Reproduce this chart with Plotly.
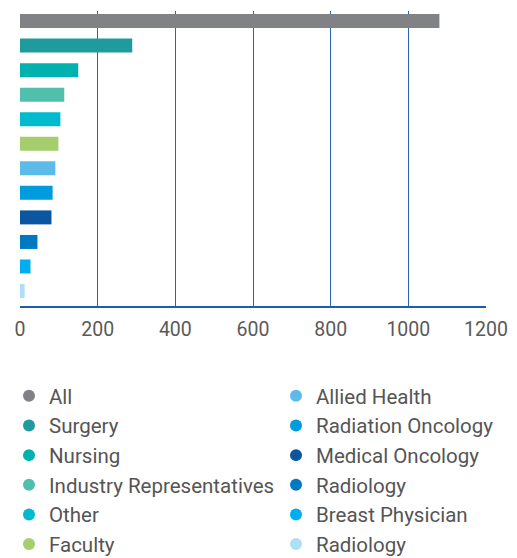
import plotly.graph_objects as go

categories = ["All", "Surgery", "Nursing", "Industry Representatives", "Other", "Faculty",
              "Allied Health", "Radiation Oncology", "Medical Oncology", "Radiology",
              "Breast Physician", "Radiology"]
values = [1080, 289, 150, 114, 104, 99, 91, 84, 81, 45, 27, 12]
colors = ["#808285", "#1f9a9d", "#00b1ae", "#50c0ad", "#00bacd", "#a6ce6e",
          "#5dbbe9", "#009bdd", "#0b56a0", "#0079c1", "#00aeef", "#addff6"]
x_ticks = [0, 200, 400, 600, 800, 1000, 1200]

positions = list(range(len(categories)))
FONT = "Roboto"
TXT = "#555555"

W, H = 517, 558
L, R, T, B = 20, 31, 11, 252
pw, ph = W - L - R, H - T - B


def px_x(p):
    return (p - L) / pw


def px_y(p):
    return (H - B - p) / ph


fig = go.Figure()
fig.add_trace(go.Bar(x=values, y=positions, orientation="h", marker_color=colors,
                     marker_line_width=0, width=0.57, showlegend=False, hoverinfo="x"))

for i, (name, c) in enumerate(zip(categories, colors)):
    fig.add_trace(go.Scatter(x=[0], y=[-5], mode="markers", name=name,
                             marker=dict(symbol="circle", size=12, color=c),
                             hoverinfo="skip",
                             legend="legend" if i < 6 else "legend2"))

legend_common = dict(font=dict(family=FONT, size=20.5, color=TXT), bgcolor="rgba(0,0,0,0)",
                     yanchor="top", xanchor="left",
                     itemclick=False, itemdoubleclick=False)

fig.update_layout(
    width=W, height=H,
    margin=dict(l=L, r=R, t=T, b=B, autoexpand=False),
    paper_bgcolor="white", plot_bgcolor="white",
    barmode="overlay",
    xaxis=dict(type="linear", range=[0, 1200], tickvals=x_ticks,
               ticktext=[str(t) for t in x_ticks], automargin=False,
               showgrid=True, gridcolor="#2a64ac", gridwidth=1, zeroline=False,
               showline=True, linecolor="#1d5ea8", linewidth=1.5, ticks="",
               ticklabelstandoff=5,
               tickfont=dict(family=FONT, size=19.5, color="#5a5a5a"), fixedrange=True),
    yaxis=dict(type="linear", range=[11.61, -0.41], showticklabels=False, showgrid=False,
               zeroline=False, fixedrange=True, automargin=False),
    legend=dict(x=px_x(9), y=px_y(376), **legend_common),
    legend2=dict(x=px_x(276), y=px_y(376), **legend_common),
)

fig.write_html("out.html", config={"displayModeBar": False},
               post_script="document.body.style.margin='0';")
